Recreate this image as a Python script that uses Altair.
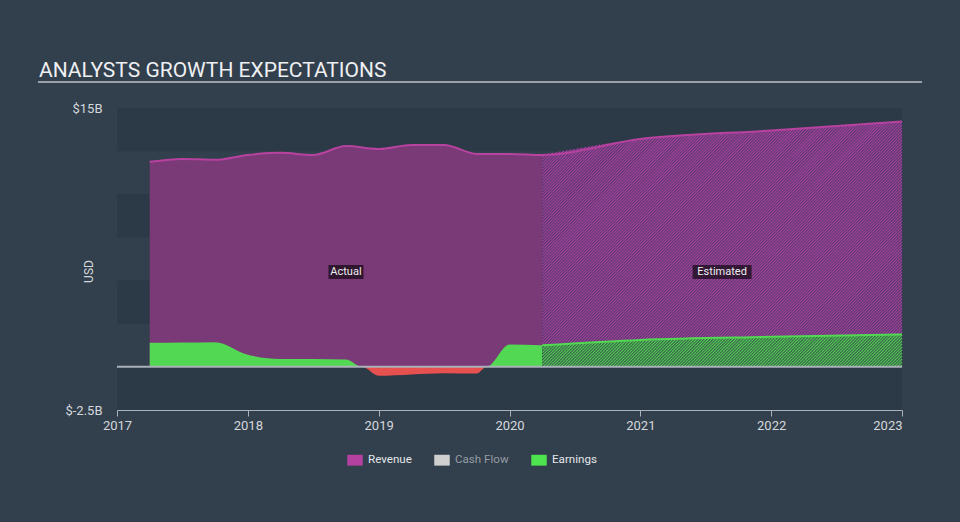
import math
import altair as alt
import pandas as pd
import numpy as np

# ---------------- data ----------------
actual_t = [2017.25, 2017.5, 2017.75, 2018.0, 2018.25, 2018.5, 2018.75,
            2019.0, 2019.25, 2019.5, 2019.75, 2020.0, 2020.25]
actual_revenue = [11.88, 12.05, 12.0, 12.28, 12.4, 12.28, 12.8,
                  12.63, 12.86, 12.86, 12.34, 12.34, 12.28]

earn_t = [2017.25, 2017.5, 2017.75, 2018.0, 2018.25, 2018.5, 2018.75, 2018.873,
          2019.0, 2019.25, 2019.5, 2019.75, 2019.826, 2020.0, 2020.25]
earn_v = [1.39, 1.41, 1.43, 0.7, 0.46, 0.45, 0.42, 0.0,
          -0.52, -0.44, -0.37, -0.39, 0.0, 1.29, 1.25]

est_t = [2020.25, 2021.0, 2022.0, 2023.0]
est_revenue = [12.28, 13.2, 13.7, 14.22]
est_earnings = [1.25, 1.56, 1.74, 1.88]

years = [2017, 2018, 2019, 2020, 2021, 2022, 2023]
band_lo = [12.5, 7.5, 2.5, -2.5]
band_hi = [15.0, 10.0, 5.0, 0.0]
legend_names = ["Revenue", "Cash Flow", "Earnings"]
legend_colors = ["#b4419f", "#cfcfcf", "#4ee44e"]

# ---------------- styling ----------------
BG = "#323f4c"
BAND = "#2c3946"
W, H = 785, 302
FONT = "Roboto"
REV_FILL = "#7a3977"
REV_LINE = "#b8429f"
GREEN = "#53d853"
RED = "#e6504e"
HATCH_REV_LIGHT, HATCH_REV_DARK = "#a6409f", "#4e3a64"
HATCH_EARN_LIGHT, HATCH_EARN_DARK = "#52c852", "#37554d"
HATCH_STEP = 3.0   # px between hatch lines (horizontal)
HATCH_WIDTH = 1.25
X0, X1 = 2017, 2023
Y0, Y1 = -2.5, 15.0
KX = W / (X1 - X0)   # px per year
KY = H / (Y1 - Y0)   # px per $B

actual_df = pd.DataFrame({"t": actual_t, "rev": actual_revenue})
earn_df = pd.DataFrame({"t": earn_t, "v": earn_v})
earn_df["pos"] = earn_df["v"].clip(lower=0)
earn_df["neg"] = earn_df["v"].clip(upper=0)
est_df = pd.DataFrame({"t": est_t, "rev": est_revenue, "earn": est_earnings})
rev_all = pd.DataFrame({"t": actual_t + est_t[1:], "rev": actual_revenue + est_revenue[1:]})
bands_df = pd.DataFrame({"lo": band_lo, "hi": band_hi})
legend_df = pd.DataFrame({"series": legend_names})

xscale = alt.Scale(domain=[X0, X1], nice=False, zero=False)
yscale = alt.Scale(domain=[Y0, Y1], nice=False, zero=False)


# ---- the same monotone-x curve the renderer draws, used to clip the hatching ----
def monotone(xs, ys):
    xs = np.asarray(xs, float)
    ys = np.asarray(ys, float)
    n = len(xs)
    h = np.diff(xs)
    s = np.diff(ys) / h
    m = np.zeros(n)
    sg = lambda v: -1.0 if v < 0 else 1.0
    for i in range(1, n - 1):
        p = (s[i - 1] * h[i] + s[i] * h[i - 1]) / (h[i - 1] + h[i])
        m[i] = (sg(s[i - 1]) + sg(s[i])) * min(abs(s[i - 1]), abs(s[i]), 0.5 * abs(p))
    m[0] = (3 * s[0] - m[1]) / 2
    m[-1] = (3 * s[-1] - m[-2]) / 2

    def f(x):
        i = int(np.clip(np.searchsorted(xs, x, side="right") - 1, 0, n - 2))
        hh = h[i]
        u = (x - xs[i]) / hh
        h00 = 2 * u ** 3 - 3 * u ** 2 + 1
        h10 = u ** 3 - 2 * u ** 2 + u
        h01 = -2 * u ** 3 + 3 * u ** 2
        h11 = u ** 3 - u ** 2
        return h00 * ys[i] + h10 * hh * m[i] + h01 * ys[i + 1] + h11 * hh * m[i + 1]
    return f


def hatch_segments(ts, vals):
    """'/' lines at 45 degrees (in pixels) filling the region between 0 and the curve."""
    curve = monotone(ts, vals)
    xs = (ts[0] - X0) * KX
    xe = (ts[-1] - X0) * KX
    top = lambda xp: curve(X0 + xp / KX) * KY   # curve height in px above zero
    ymax = max(vals) * KY
    rows = []
    c = math.floor((xs - ymax) / HATCH_STEP) * HATCH_STEP
    while c < xe:
        xa = max(xs, c)
        g = lambda xp: (xp - c) - top(xp)
        if xa < xe and g(xa) < 0:
            if g(xe) <= 0:
                xb = xe
            else:
                lo, hi = xa, xe
                for _ in range(40):
                    mid = (lo + hi) / 2
                    if g(mid) < 0:
                        lo = mid
                    else:
                        hi = mid
                xb = lo
            rows.append({"ta": X0 + xa / KX, "va": (xa - c) / KY,
                         "tb": X0 + xb / KX, "vb": (xb - c) / KY})
        c += HATCH_STEP
    return pd.DataFrame(rows)


rev_hatch_df = hatch_segments(est_t, est_revenue)
earn_hatch_df = hatch_segments(est_t, est_earnings)

x_enc = alt.X("t:Q", scale=xscale, axis=alt.Axis(
    values=years, format="d", title=None, grid=False, labelFlush=False,
    labelAlign={"condition": {"test": "datum.value == 2023", "value": "right"}, "value": "center"},
    domainColor="#aab1b8", domainWidth=1, tickColor="#aab1b8", tickSize=6,
    labelColor="#d4d8dc", labelFontSize=13, labelFont=FONT, labelPadding=3))

bands = alt.Chart(bands_df).mark_rect(color=BAND).encode(
    y=alt.Y("lo:Q", scale=yscale, axis=alt.Axis(
        values=[-2.5, 15], labelExpr="datum.value == 15 ? '$15B' : '$-2.5B'",
        ticks=False, domain=False, grid=False, labelPadding=15,
        labelColor="#d4d8dc", labelFontSize=13, labelFont=FONT,
        title="USD", titleColor="#d4d8dc", titleFont=FONT, titleFontSize=12,
        titleFontWeight="normal", titleAngle=-90, titleX=-29, titleY=163,
        titleAlign="center", titleBaseline="middle")),
    y2="hi:Q",
)

rev_act = alt.Chart(actual_df).mark_area(interpolate="monotone", color=REV_FILL).encode(
    x=x_enc, y=alt.Y("rev:Q", scale=yscale), y2=alt.datum(0))

rev_est = alt.Chart(est_df).mark_area(interpolate="monotone", color=HATCH_REV_DARK).encode(
    x=alt.X("t:Q", scale=xscale), y=alt.Y("rev:Q", scale=yscale), y2=alt.datum(0))
rev_hatch = alt.Chart(rev_hatch_df).mark_rule(color=HATCH_REV_LIGHT, strokeWidth=HATCH_WIDTH).encode(
    x=alt.X("ta:Q", scale=xscale), y=alt.Y("va:Q", scale=yscale),
    x2="tb:Q", y2="vb:Q")

earn_pos = alt.Chart(earn_df).mark_area(interpolate="monotone", color=GREEN).encode(
    x=alt.X("t:Q", scale=xscale), y=alt.Y("pos:Q", scale=yscale), y2=alt.datum(0))
earn_neg = alt.Chart(earn_df).mark_area(interpolate="monotone", color=RED).encode(
    x=alt.X("t:Q", scale=xscale), y=alt.Y("neg:Q", scale=yscale), y2=alt.datum(0))

earn_est = alt.Chart(est_df).mark_area(interpolate="monotone", color=HATCH_EARN_DARK).encode(
    x=alt.X("t:Q", scale=xscale), y=alt.Y("earn:Q", scale=yscale), y2=alt.datum(0))
earn_hatch = alt.Chart(earn_hatch_df).mark_rule(color=HATCH_EARN_LIGHT, strokeWidth=HATCH_WIDTH).encode(
    x=alt.X("ta:Q", scale=xscale), y=alt.Y("va:Q", scale=yscale),
    x2="tb:Q", y2="vb:Q")

rev_line = alt.Chart(rev_all).mark_line(interpolate="monotone", color=REV_LINE, strokeWidth=2).encode(
    x=alt.X("t:Q", scale=xscale), y=alt.Y("rev:Q", scale=yscale))
earn_line = alt.Chart(est_df).mark_line(interpolate="monotone", color=GREEN, strokeWidth=2).encode(
    x=alt.X("t:Q", scale=xscale), y=alt.Y("earn:Q", scale=yscale))

zero_rule = alt.Chart(pd.DataFrame({"z": [0.0]})).mark_rule(color="#aab1b8", strokeWidth=2).encode(
    y=alt.Y("z:Q", scale=yscale))

lab_df = pd.DataFrame({
    "t": [(actual_t[0] + actual_t[-1]) / 2, (est_t[0] + est_t[-1]) / 2],
    "y": [5.5, 5.5],
    "text": ["Actual", "Estimated"],
})
box_a = alt.Chart(lab_df.iloc[[0]]).mark_rect(width=35, height=14, color="#000000", opacity=0.6).encode(
    x=alt.X("t:Q", scale=xscale), y=alt.Y("y:Q", scale=yscale))
box_e = alt.Chart(lab_df.iloc[[1]]).mark_rect(width=59, height=14, color="#000000", opacity=0.6).encode(
    x=alt.X("t:Q", scale=xscale), y=alt.Y("y:Q", scale=yscale))
lab_text = alt.Chart(lab_df).mark_text(font=FONT, fontSize=11, color="#eeeeee",
                                       align="center", baseline="middle").encode(
    x=alt.X("t:Q", scale=xscale), y=alt.Y("y:Q", scale=yscale), text="text:N")

title_df = pd.DataFrame({"text": ["ANALYSTS GROWTH EXPECTATIONS"]})
title = alt.Chart(title_df).mark_text(font=FONT, fontSize=21, color="#eef0f2",
                                      align="left", baseline="alphabetic").encode(
    x=alt.value(-78), y=alt.value(-31), text="text:N")
underline = alt.Chart(title_df).mark_rule(color="#9aa1a8", strokeWidth=2).encode(
    x=alt.value(-79), x2=alt.value(805), y=alt.value(-26))

legend_layer = alt.Chart(legend_df).mark_point(filled=True, opacity=0).encode(
    x=alt.value(0), y=alt.value(0),
    color=alt.Color("series:N", scale=alt.Scale(domain=legend_names, range=legend_colors),
                    legend=alt.Legend(
                        orient="none", legendX=230, legendY=344, direction="horizontal",
                        title=None, symbolType="M-1,-0.7L1,-0.7L1,0.7L-1,0.7Z",
                        symbolSize=240, symbolOpacity=1, symbolStrokeWidth=0,
                        labelFont=FONT, labelFontSize=11.6,
                        labelColor={"expr": "datum.label == 'Cash Flow' ? '#959da5' : '#e4e7ea'"},
                        columnPadding=22, labelOffset=5, padding=0)))

chart = alt.layer(
    bands, rev_act, rev_est, rev_hatch, earn_pos, earn_neg, earn_est, earn_hatch,
    rev_line, earn_line, zero_rule, box_a, box_e, lab_text, title, underline, legend_layer
).properties(
    width=W, height=H,
    padding={"left": 117, "top": 108, "right": 58, "bottom": 112},
    autosize=alt.AutoSizeParams(type="none"),
    background=BG,
).configure_view(stroke=None)

chart.save("out.html", embed_options={"renderer": "svg", "actions": False})
